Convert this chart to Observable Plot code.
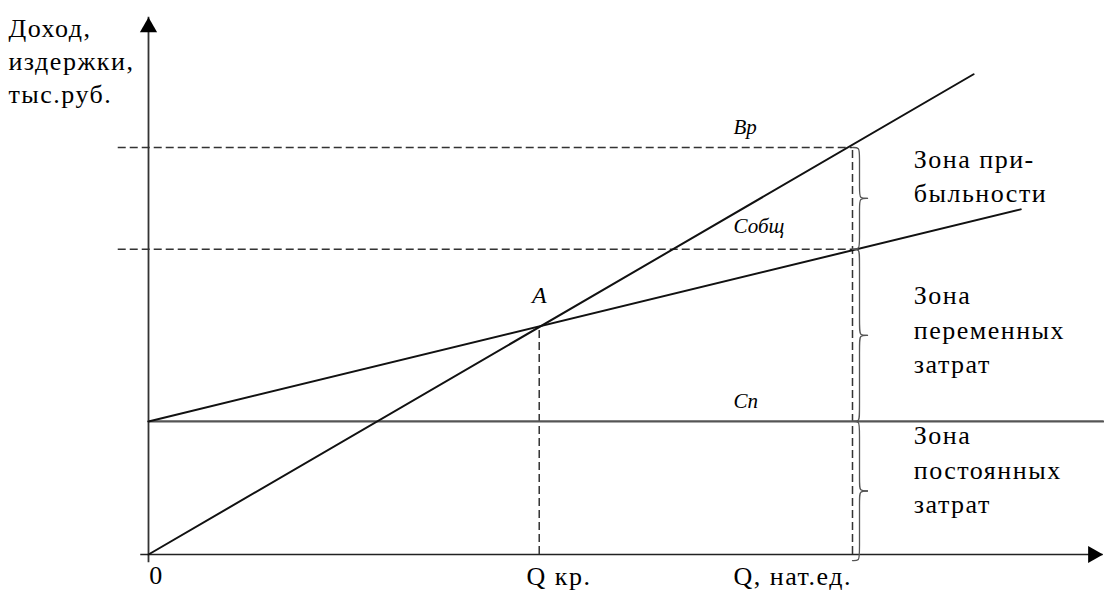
<!DOCTYPE html>
<html><head><meta charset="utf-8">
<script src="https://cdn.jsdelivr.net/npm/d3@7"></script>
<script src="https://cdn.jsdelivr.net/npm/@observablehq/plot@0.6"></script>
<style>body{margin:0;background:#fff} #chart svg{display:block}</style>
</head><body><div id="chart"></div>
<script>
// ---- values (x: Q, нат.ед.; y: тыс.руб.) ----
const Q = 100;            // фактический объём
const Qkr = 55.5;         // критический объём (точка A)
const A_y = 560;          // доход = издержки в точке A
const fixedCost = 327;    // Сп
const revenueQ = 1000;    // Вр при Q
const costQ = 750;        // Собщ при Q
const revenueLine = [{x: 0, y: 0}, {x: 117.2, y: 1180}];
const costLine = [{x: 0, y: 327}, {x: 123.9, y: 848}];
const fixedLine = [{x: 0, y: 327}, {x: 135.6, y: 327}];
const axisXExtent = [-1.1, 135.6];
const axisYExtent = [-20, 1320];
const dashStart = -4.3;

const axisTitle = [{x: -19.9, y: 1110, text: "Доход,\nиздержки,\nтыс.руб."}];
const zoneLabels = [
  {x: 108.7, y: 865, text: "Зона при-\nбыльности"},
  {x: 108.7, y: 447, text: "Зона\nпеременных\nзатрат"},
  {x: 108.7, y: 103, text: "Зона\nпостоянных\nзатрат"}
];
const tickLabels = [
  {x: 0.1, y: -72, text: "0"},
  {x: 53.7, y: -76, text: "Q кр."},
  {x: 83.1, y: -76, text: "Q, нат.ед."}
];
const lineLabels = [
  {x: 83.1, y: 1034, text: "Вр"},
  {x: 83.1, y: 789, text: "Собщ"},
  {x: 83.1, y: 361, text: "Сп"}
];
const pointLabels = [{x: Qkr, y: 617, text: "A"}];
const zones = [
  {name: "profit", top: revenueQ, bottom: costQ},
  {name: "variable", top: costQ, bottom: fixedCost},
  {name: "fixed", top: fixedCost, bottom: -15}
];

// scale constants
const xDom = [0, 100], xRng = [148, 852];
const yDom = [0, 1000], yRng = [554, 147];
const kx = (xRng[1] - xRng[0]) / (xDom[1] - xDom[0]);
const ky = (yRng[0] - yRng[1]) / (yDom[1] - yDom[0]);

// curly brace shape (pixel offsets -> data units)
function bracePoints(z) {
  const hpx = (z.top - z.bottom) * ky, m = hpx / 2;
  const top = [[0,0],[7,0],[7,7],[7,m-7],[7,m],[15,m]];
  const bot = [[15,m],[7,m],[7,m+7],[7,hpx-7],[7,hpx],[0,hpx]];
  const conv = (seg) => ([dx, dy]) => ({x: Q + dx / kx, y: z.top - dy / ky, seg});
  return [...top.map(conv(z.name + "a")), ...bot.map(conv(z.name + "b"))];
}
const braceData = zones.flatMap(bracePoints);

const dash = "8,4";
const FONT = "Liberation Serif";

const chart = Plot.plot({
  width: 1104, height: 590,
  margin: 0,
  x: {domain: xDom, range: xRng, axis: null},
  y: {domain: yDom, range: yRng, axis: null},
  marks: [
    // axes
    Plot.ruleY([0], {x1: axisXExtent[0], x2: axisXExtent[1], stroke: "#222", strokeWidth: 1.6}),
    Plot.ruleX([0], {y1: axisYExtent[0], y2: axisYExtent[1], stroke: "#333", strokeWidth: 1.8}),
    Plot.dot([{x: 0, y: axisYExtent[1]}], {x: "x", y: "y", symbol: "triangle", r: 6.4, fill: "#000", stroke: "none", dy: 10}),
    Plot.dot([{x: axisXExtent[1], y: 0}], {x: "x", y: "y", symbol: "triangle", r: 6.4, fill: "#000", stroke: "none", rotate: 90, dx: -10}),
    // dashed guides
    Plot.ruleY([revenueQ, costQ], {x1: dashStart, x2: Q, stroke: "#333", strokeWidth: 1.5, strokeDasharray: dash}),
    Plot.ruleX([Qkr], {y1: 0, y2: A_y, stroke: "#333", strokeWidth: 1.5, strokeDasharray: dash}),
    Plot.ruleX([Q], {y1: 0, y2: revenueQ, stroke: "#333", strokeWidth: 1.5, strokeDasharray: dash}),
    // lines
    Plot.line(fixedLine, {x: "x", y: "y", stroke: "#555", strokeWidth: 2.2}),
    Plot.line(costLine, {x: "x", y: "y", stroke: "#111", strokeWidth: 2}),
    Plot.line(revenueLine, {x: "x", y: "y", stroke: "#111", strokeWidth: 2}),
    // braces
    Plot.line(braceData, {x: "x", y: "y", z: "seg", curve: "basis", stroke: "#555", strokeWidth: 1.3}),
    // texts
    Plot.text(axisTitle, {x: "x", y: "y", text: "text", fontFamily: FONT, textAnchor: "start", lineAnchor: "bottom", lineHeight: 1.27, fontSize: 26}),
    Plot.text(zoneLabels, {x: "x", y: "y", text: "text", fontFamily: FONT, textAnchor: "start", lineAnchor: "bottom", lineHeight: 1.31, fontSize: 26}),
    Plot.text(tickLabels, {x: "x", y: "y", text: "text", fontFamily: FONT, textAnchor: "start", lineAnchor: "bottom", fontSize: 26}),
    Plot.text(lineLabels, {x: "x", y: "y", text: "text", fontFamily: FONT, textAnchor: "start", lineAnchor: "bottom", fontSize: 21, fontStyle: "italic"}),
    Plot.text(pointLabels, {x: "x", y: "y", text: "text", fontFamily: FONT, textAnchor: "middle", lineAnchor: "bottom", fontSize: 24, fontStyle: "italic"})
  ]
});
// make sure every text element uses the serif face; widen upright labels like the reference
d3.select(chart).selectAll("text").attr("font-family", FONT).style("font-family", "'Liberation Serif', serif");
d3.select(chart).selectAll("g[font-size='26'] text").attr("letter-spacing", 1.5);
document.getElementById("chart").appendChild(chart);
</script>
</body></html>
